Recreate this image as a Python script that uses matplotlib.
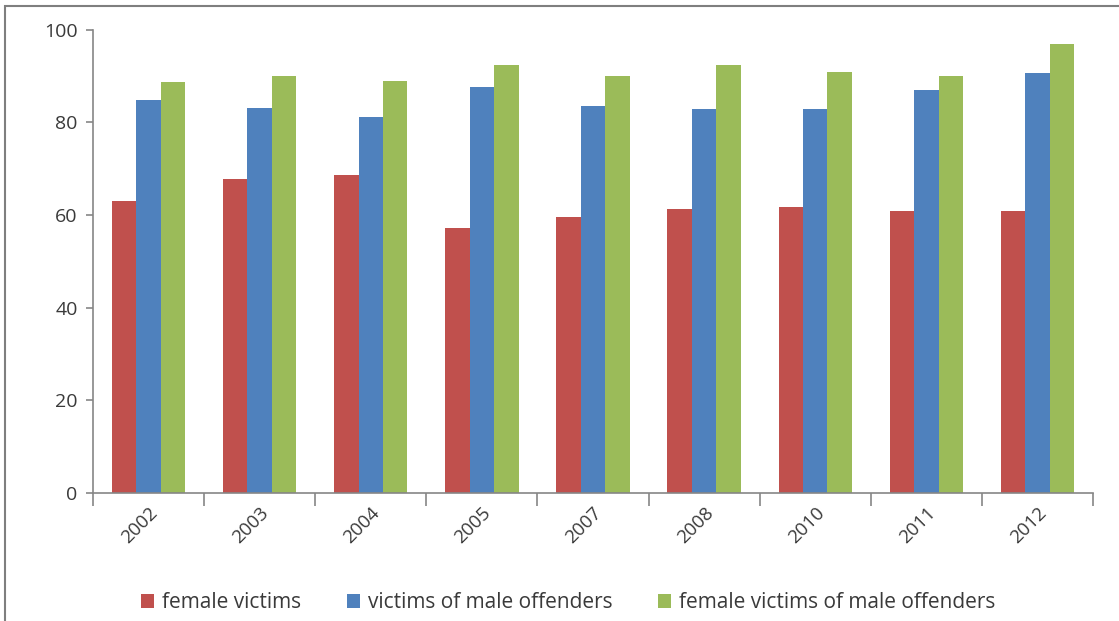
import matplotlib.pyplot as plt
import numpy as np
from matplotlib.patches import Rectangle

# Datos
anios = ['2002', '2003', '2004', '2005', '2007', '2008', '2010', '2011', '2012']
victimas_mujeres = [63.0, 67.8, 68.6, 57.3, 59.6, 61.4, 61.7, 60.9, 60.9]
victimas_ofensor_hombre = [84.9, 83.2, 81.1, 87.6, 83.6, 82.8, 82.8, 86.9, 90.6]
mujeres_ofensor_hombre = [88.8, 90.0, 89.0, 92.4, 90.0, 92.4, 90.9, 90.0, 97.0]

etiquetas = ['female victims', 'victims of male offenders', 'female victims of male offenders']
colores = ['#C0504D', '#4F81BD', '#9BBB59']
gris_texto = '#3a3a3a'

plt.rcParams['font.family'] = ['Open Sans', 'DejaVu Sans']

fig = plt.figure(figsize=(11.19, 6.21), dpi=100)
ax = fig.add_axes([93 / 1119, 0.206, 1000 / 1119, 0.746])

# Marco exterior del gráfico
fig.patches.append(Rectangle((5 / 1119, -0.1), 1.2, 1 - 6 / 621 + 0.1,
                             transform=fig.transFigure, fill=False,
                             edgecolor='#7f7f7f', lw=1.5))

x = np.arange(len(anios))
w = 0.22
series = [victimas_mujeres, victimas_ofensor_hombre, mujeres_ofensor_hombre]
for k, (vals, lab, col) in enumerate(zip(series, etiquetas, colores)):
    ax.bar(x + (k - 1) * w, vals, width=w, color=col, label=lab)

ax.set_xlim(-0.5, len(anios) - 0.5)
ax.set_ylim(0, 100)
ax.set_yticks([0, 20, 40, 60, 80, 100])
ax.set_xticks(x)
ax.set_xticklabels(anios, rotation=45, ha='right', rotation_mode='anchor',
                   fontsize=13.5, color=gris_texto)
ax.set_xticks(np.arange(-0.5, len(anios)), minor=True)
ax.tick_params(axis='x', which='major', length=0, pad=8)
ax.tick_params(axis='x', which='minor', length=9, color='#868686', direction='out', width=1.2)
ax.tick_params(axis='y', length=5, color='#868686', width=1.2, labelsize=14,
               labelcolor=gris_texto, pad=6)

for s in ['top', 'right']:
    ax.spines[s].set_visible(False)
for s in ['left', 'bottom']:
    ax.spines[s].set_color('#868686')
    ax.spines[s].set_linewidth(1.2)

leg = fig.legend(loc='lower center', bbox_to_anchor=(0.508, -0.018), ncol=3, frameon=False,
                 fontsize=15, handlelength=0.6, handleheight=0.6, handletextpad=0.4,
                 columnspacing=2.2)
for t in leg.get_texts():
    t.set_color(gris_texto)

plt.savefig('out.png', dpi=100)
